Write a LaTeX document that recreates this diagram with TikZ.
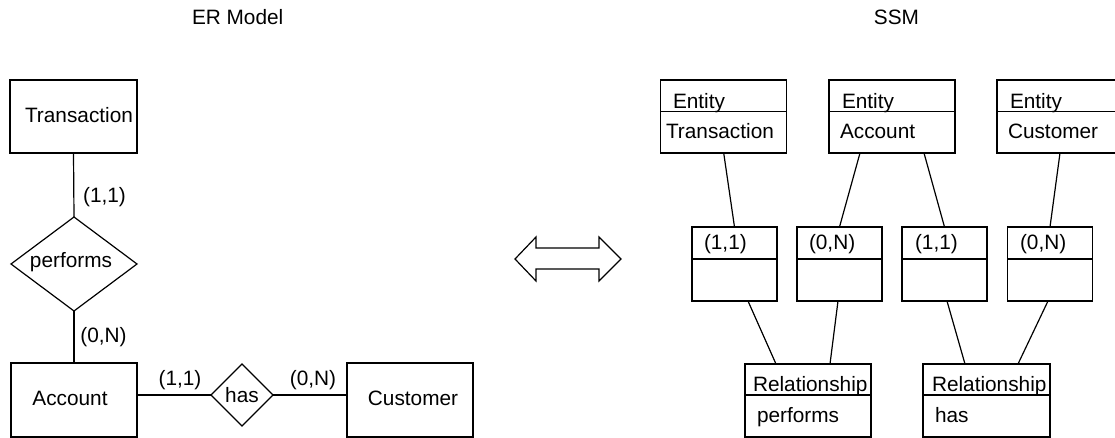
\documentclass[tikz,border=0pt]{standalone}
\usepackage{fontspec}
\setmainfont{Liberation Sans}
\usetikzlibrary{shapes.geometric}
\tikzset{
  ln/.style={line width=1.2bp, draw=black},
  box/.style={ln, rectangle, inner sep=0pt, outer sep=0pt},
  dia/.style={ln, diamond, inner sep=0pt, outer sep=0pt},
  txt/.style={inner sep=0pt, outer sep=0pt, font=\fontsize{20.8bp}{25bp}\selectfont},
  lt/.style={txt, anchor=base west},
  ct/.style={txt, anchor=base},
}
\begin{document}
\begin{tikzpicture}[x=1bp,y=-1bp]
\useasboundingbox (0,0) rectangle (1115,438);
% titles
\node[lt] (t1) at (192,25) {ER Model};
\node[txt, anchor=base east] (t2) at (919,25) {SSM};
% ---- ER model ----
\node[box, minimum width=127bp, minimum height=73bp] (tr) at (73.5,116.5) {};
\node[box, minimum width=126bp, minimum height=74bp] (acc) at (74,400) {};
\node[box, minimum width=126bp, minimum height=74bp] (cus) at (410,400) {};
\node[dia, minimum width=126bp, minimum height=94bp] (perf) at (74,264) {};
\node[dia, minimum width=62bp, minimum height=62bp] (has) at (242,395) {};
\node[ct] (trt) at (79,122.5) {Transaction};
\node[ct] (acct) at (70,406) {Account};
\node[ct] (cust) at (413,406) {Customer};
\node[ct] (perft) at (71,268) {performs};
\node[ct] (hast) at (242,403) {has};
\draw[ln] (tr.south) -- (perf.north);
\draw[ln] (perf.south) -- (acc.north);
\draw[ln] (has.west -| acc.east) -- (has.west);
\draw[ln] (has.east) -- (has.east -| cus.west);
\node[ct] (c1) at (104.5,203) {(1,1)};
\node[ct] (c2) at (103.5,343) {(0,N)};
\node[ct] (c3) at (180,385.5) {(1,1)};
\node[ct] (c4) at (313,385.5) {(0,N)};
% ---- double arrow ----
\draw[ln, line join=miter] (515,259) -- (536,237) -- (536,248) -- (599,248) -- (599,237)
  -- (621,259) -- (599,281) -- (599,269) -- (536,269) -- (536,281) -- cycle;
% ---- SSM ----
\foreach \n/\cx in {e1/723.7, e2/892, e3/1060}{
  \node[box, minimum width=126bp, minimum height=31.7bp] (\n h) at (\cx,95.85) {};
  \node[box, minimum width=126bp, minimum height=41.3bp] (\n b) at (\cx,132.35) {};
}
\foreach \n/\cx in {m1/734.5, m2/839.5, m3/944.5, m4/1050}{
  \node[box, minimum width=85bp, minimum height=32bp] (\n h) at (\cx,243) {};
  \node[box, minimum width=85bp, minimum height=42bp] (\n b) at (\cx,280) {};
}
\foreach \n/\cx/\w in {r1/808/126, r2/986.5/127}{
  \node[box, minimum width=\w bp, minimum height=31bp] (\n h) at (\cx,379.5) {};
  \node[box, minimum width=\w bp, minimum height=42bp] (\n b) at (\cx,416) {};
}
\node[lt] at (673,108.5) {Entity};
\node[lt] at (666,139) {Transaction};
\node[lt] at (842,108.5) {Entity};
\node[lt] at (840,139) {Account};
\node[lt] at (1010,108.5) {Entity};
\node[lt] at (1008,139) {Customer};
\node[lt] at (704,250) {(1,1)};
\node[lt] at (809,250) {(0,N)};
\node[lt] at (915,250) {(1,1)};
\node[lt] at (1020,250) {(0,N)};
\node[lt] at (753,392) {Relationship};
\node[lt] at (757,423) {performs};
\node[lt] at (932,392) {Relationship};
\node[lt] at (935,423) {has};
% connectors
\draw[ln] (e1b.south) -- (m1h.north);
\draw[ln] ([xshift=-32bp]e2b.south) -- (m2h.north);
\draw[ln] ([xshift=32bp]e2b.south) -- (m3h.north);
\draw[ln] (e3b.south) -- (m4h.north);
\draw[ln] ([xshift=13.5bp]m1b.south) -- ([xshift=-32bp]r1h.north);
\draw[ln] ([xshift=-1.5bp]m2b.south) -- ([xshift=22bp]r1h.north);
\draw[ln] ([xshift=2.5bp]m3b.south) -- ([xshift=-21.5bp]r2h.north);
\draw[ln] ([xshift=-2bp]m4b.south) -- ([xshift=31.5bp]r2h.north);
\end{tikzpicture}
\end{document}
